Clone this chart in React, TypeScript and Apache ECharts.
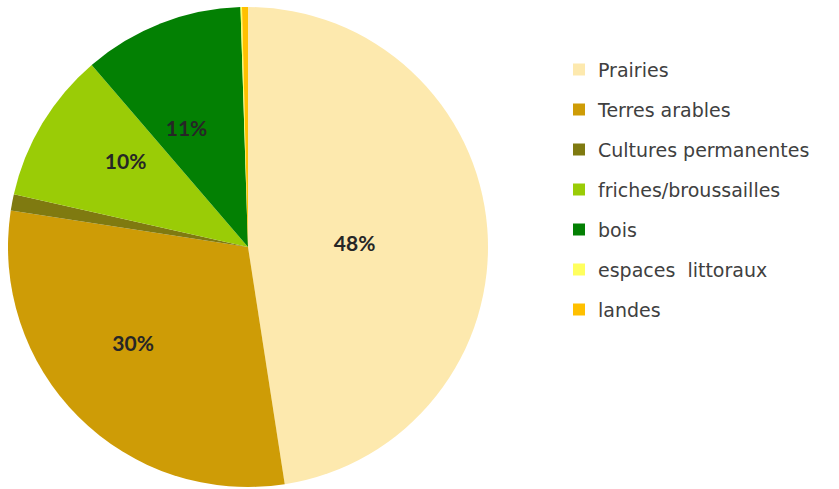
import React, { useEffect, useRef } from "react";
import * as echarts from "echarts";

const categories = [
  "Prairies",
  "Terres arables",
  "Cultures permanentes",
  "friches/broussailles",
  "bois",
  "espaces  littoraux",
  "landes",
];
const values = [47.6, 29.9, 1.1, 10.2, 10.8, 0.1, 0.4];
const colors = ["#FDE9AE", "#CE9C06", "#7F7A10", "#9ACC06", "#038003", "#FFFF5E", "#FFC000"];
const labelShift = [
  [-16, 5],
  [-28, 8],
  [0, 0],
  [-17, -23],
  [-17, -5],
  [0, 0],
  [0, 0],
];

export default function App() {
  const ref = useRef<HTMLDivElement>(null);
  useEffect(() => {
    const chart = echarts.init(ref.current!, null, { renderer: "svg" });
    chart.setOption({
      animation: false,
      backgroundColor: "#ffffff",
      legend: {
        orient: "vertical",
        left: 573,
        top: 60,
        padding: 0,
        itemWidth: 12,
        itemHeight: 12,
        itemGap: 21,
        icon: "rect",
        data: categories,
        textStyle: {
          fontFamily: "'DejaVu Sans', sans-serif",
          fontSize: 19,
          lineHeight: 19,
          color: "#404040",
          padding: [0, 0, 0, 8],
        },
        selectedMode: false,
      },
      series: [
        {
          type: "pie",
          center: [248, 247],
          radius: 240,
          startAngle: 90,
          clockwise: true,
          itemStyle: { borderWidth: 0 },
          label: {
            show: true,
            position: "inside",
            formatter: (p: any) => (p.percent >= 5 ? `${Math.round(p.percent)}%` : ""),
            fontFamily: "Lato, 'Noto Sans', sans-serif",
            fontWeight: "bold",
            fontSize: 21,
            color: "#262626",
          },
          labelLine: { show: false },
          labelLayout: (params: any) => {
            const s = labelShift[params.dataIndex] || [0, 0];
            return { dx: s[0], dy: s[1] };
          },
          emphasis: { disabled: true },
          data: categories.map((name, i) => ({
            name,
            value: values[i],
            itemStyle: { color: colors[i] },
          })),
        },
      ],
    });
    return () => chart.dispose();
  }, []);
  return (
    <div
      ref={ref}
      style={{ position: "fixed", left: 0, top: 0, width: 839, height: 489 }}
    />
  );
}
